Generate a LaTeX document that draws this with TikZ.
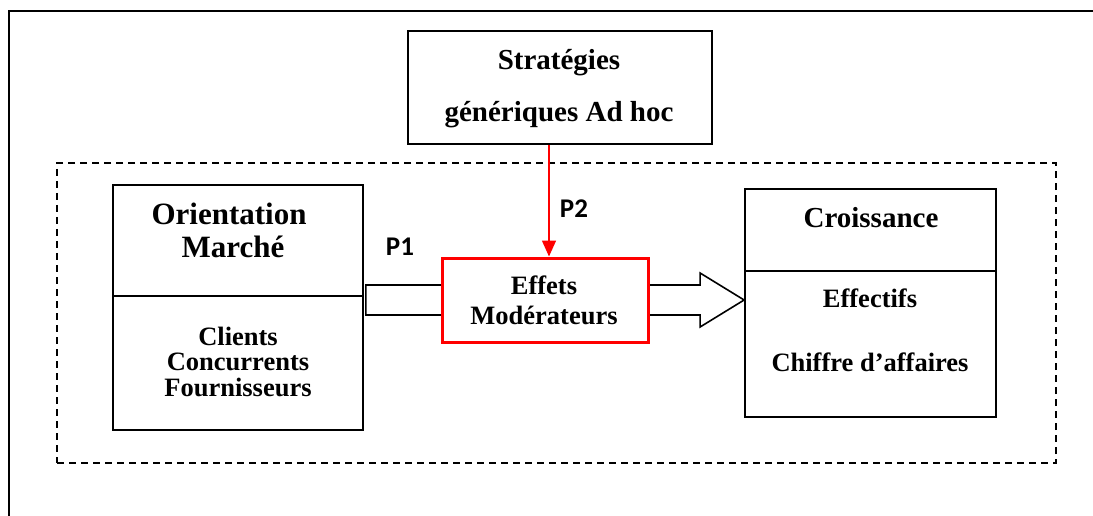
\documentclass[tikz,border=0pt]{standalone}
\usepackage{fontspec}
\setmainfont{Liberation Serif}
\newfontfamily\labelfont{Carlito}
\usetikzlibrary{arrows.meta,calc,backgrounds}

\begin{document}
\begin{tikzpicture}[x=1pt,y=-1pt,
  box/.style={draw, line width=1.8pt, inner sep=0pt, fill=white},
  rule/.style={line width=1.8pt},
  hdbig/.style={font=\fontsize{31}{31}\selectfont\bfseries, anchor=base, inner sep=0pt},
  hd/.style={font=\fontsize{29}{29}\selectfont\bfseries, anchor=base, inner sep=0pt},
  bd/.style={font=\fontsize{26.5}{26.5}\selectfont\bfseries, anchor=base, inner sep=0pt},
  plabel/.style={font=\labelfont\fontsize{27}{27}\selectfont\bfseries, anchor=base, inner sep=0pt},
  blockarrow/.style={draw, line width=1.6pt, fill=white, line join=miter},
  redarrow/.style={draw=red, line width=1.5pt, -{Triangle[length=16pt,width=14pt]}},
]
\useasboundingbox (0,0) rectangle (1093,516);

% open outer frame (top and left sides)
\draw[line width=2pt] (8.5,516) -- (8.5,11) -- (1093,11);

% dashed zone around the model
\node[draw, dash pattern=on 7pt off 5pt, line width=1.8pt, inner sep=0pt,
      minimum width=999pt, minimum height=300pt] (zone) at (556.5,313) {};

% generic strategies
\node[box, line width=2.8pt, minimum width=304pt, minimum height=113pt] (strat) at (560,87.5) {};
\node[hd] (strat-1) at (559,70) {Stratégies};
\node[hd] (strat-2) at (559,122) {génériques Ad hoc};

% market orientation
\node[box, minimum width=250pt, minimum height=245pt] (om) at (238,307.5) {};
\coordinate (om-div) at ($(om.north west)+(0,112)$);
\draw[rule] (om-div) -- (om-div -| om.east);
\node[hdbig] (om-1) at (229,224) {Orientation};
\node[hdbig] (om-2) at (233,257) {Marché};
\node[bd] (om-3) at (238,345) {Clients};
\node[bd] (om-4) at (238,370) {Concurrents};
\node[bd] (om-5) at (238,396) {Fournisseurs};

% growth
\node[box, minimum width=251pt, minimum height=228pt] (cr) at (870.5,303) {};
\coordinate (cr-div) at ($(cr.north west)+(0,83)$);
\draw[rule] (cr-div) -- (cr-div -| cr.east);
\node[hd] (cr-1) at (871,227) {Croissance};
\node[bd] (cr-2) at (870,307) {Effectifs};
\node[bd] (cr-3) at (870,371) {Chiffre d’affaires};

% moderating effects
\node[draw=red, line width=3pt, fill=white, inner sep=0pt,
      minimum width=206pt, minimum height=84pt] (ef) at (545,300) {};
\node[bd] (ef-1) at (544,294) {Effets};
\node[bd] (ef-2) at (544,324) {Modérateurs};

% block arrow from orientation to growth, passing behind the moderating box
\begin{pgfonlayer}{background}
\coordinate (a0) at (om.east |- ef.center);
\coordinate (a1) at (cr.west |- ef.center);
\draw[blockarrow] ($(a0)+(2,-15)$) -- ($(a1)+(-44,-15)$) -- ($(a1)+(-44,-27)$)
  -- (a1) -- ($(a1)+(-44,27)$) -- ($(a1)+(-44,15)$) -- ($(a0)+(2,15)$) -- cycle;
\end{pgfonlayer}

% moderation arrow
\coordinate (p2x) at (549,0);
\draw[redarrow] (strat.south -| p2x) -- (ef.north -| p2x);

% proposition labels
\node[plabel] (p1) at (400,255) {P1};
\node[plabel] (p2) at (574,217) {P2};
\end{tikzpicture}
\end{document}
